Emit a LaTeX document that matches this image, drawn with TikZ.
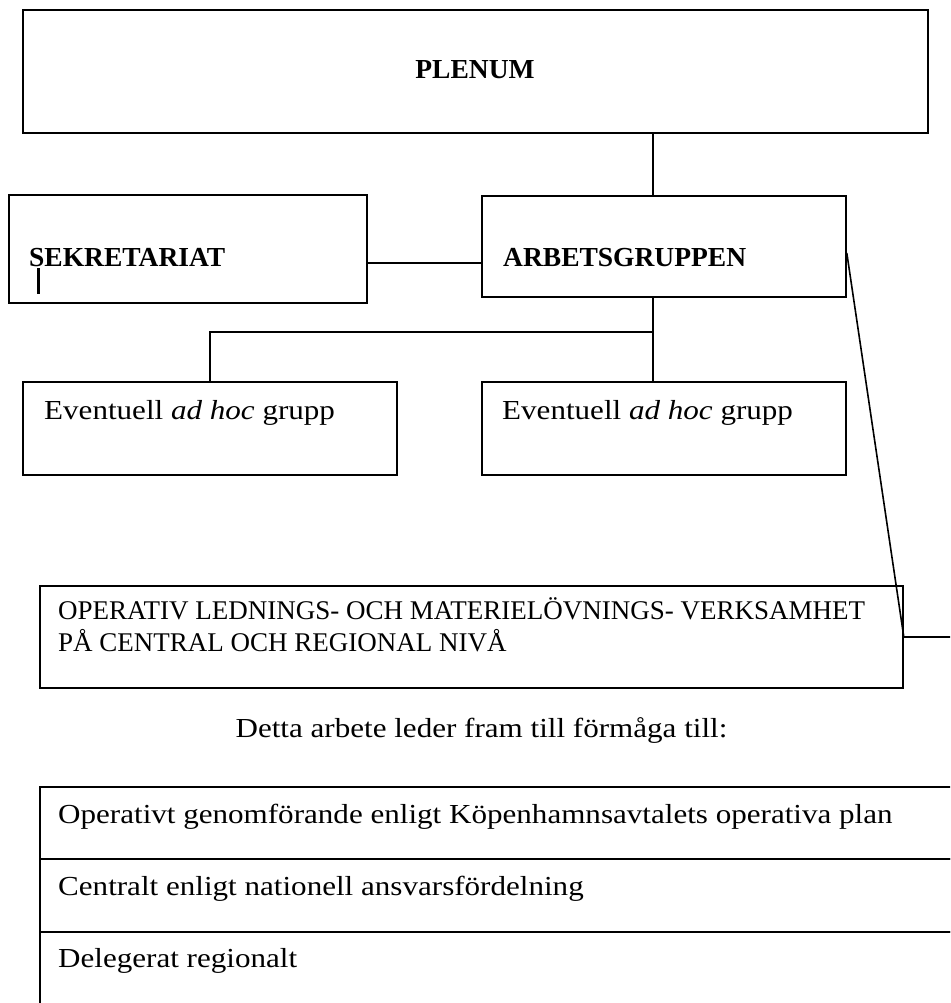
\documentclass[tikz,border=0pt]{standalone}
\usepackage{fontspec}
\setmainfont{Liberation Serif}
\newfontfamily\wideserif[FakeStretch=1.13]{Liberation Serif}
\usetikzlibrary{positioning, calc}
\tikzset{
  orgbox/.style={rectangle, draw=black, line width=1.6pt, inner sep=0pt},
  link/.style={draw=black, line width=1.6pt},
  headtext/.style={inner sep=0pt, font=\fontsize{27.5}{32}\selectfont\bfseries},
  captext/.style={inner sep=0pt, font=\fontsize{27}{32}\selectfont},
  bodytext/.style={inner sep=0pt, font=\fontsize{27.5}{32}\selectfont\wideserif},
}

\begin{document}
\begin{tikzpicture}[x=1pt, y=-1pt]
  \useasboundingbox (0,0) rectangle (950,1003);
  \clip (0,0) rectangle (950,1003);
  % boxes
  \node[orgbox, minimum width=905pt, minimum height=123pt] (plenum) at (475.5,71.5) {};
  \node[orgbox, minimum width=358pt, minimum height=108pt] (sek) at (188,249) {};
  \node[orgbox, minimum width=364pt, minimum height=101pt] (arb) at (664,246.5) {};
  \node[orgbox, minimum width=374pt, minimum height=93pt] (adhoc1) at (210,428.5) {};
  \node[orgbox, minimum width=364pt, minimum height=93pt] (adhoc2) at (664,428.5) {};
  \node[orgbox, minimum width=863pt, minimum height=102pt] (oper) at (471.5,637) {};
  \node[orgbox, minimum width=920pt, minimum height=72pt] (row1) at (500,823) {};
  \node[orgbox, minimum width=920pt, minimum height=73pt] (row2) at (500,895.5) {};
  \node[orgbox, minimum width=920pt, minimum height=78pt] (row3) at (500,971) {};
  % texts
  \node[headtext, anchor=base] (plenum-t) at (475,79) {PLENUM};
  \node[headtext, anchor=base west] (sek-t) at (29,266) {SEKRETARIAT};
  \node[headtext, anchor=base west] (arb-t) at (503,266) {ARBETSGRUPPEN};
  \node[bodytext, anchor=base west] (adhoc1-t) at (44,419) {Eventuell \textit{ad hoc} grupp};
  \node[bodytext, anchor=base west] (adhoc2-t) at (502,419) {Eventuell \textit{ad hoc} grupp};
  \node[captext, anchor=base west] (oper-t1) at (58,619) {OPERATIV LEDNINGS- OCH MATERIELÖVNINGS- VERKSAMHET};
  \node[captext, anchor=base west] (oper-t2) at (58,651) {PÅ CENTRAL OCH REGIONAL NIVÅ};
  \node[bodytext, anchor=base] (lead) at (481.5,737) {Detta arbete leder fram till förmåga till:};
  \node[bodytext, anchor=base west] (row1-t) at (58,823) {Operativt genomförande enligt Köpenhamnsavtalets operativa plan};
  \node[bodytext, anchor=base west] (row2-t) at (58,895) {Centralt enligt nationell ansvarsfördelning};
  \node[bodytext, anchor=base west] (row3-t) at (58,967) {Delegerat regionalt};
  % cursor mark
  \draw[line width=3pt] (38,268) -- (38,294);
  % connectors
  \coordinate (spine) at (653,0);
  \coordinate (tie) at (0,263);
  \coordinate (fork) at (653,332);
  \coordinate (edge) at (950,637);
  \draw[link] (plenum.south -| spine) -- (arb.north -| spine);
  \draw[link] (sek.east |- tie) -- (arb.west |- tie);
  \draw[link] (arb.south -| spine) -- (fork) -| (adhoc1.north);
  \draw[link] (fork) -- (adhoc2.north -| spine);
  \draw[link] ($(arb.east)+(0,6.5)$) -- (oper.east) -- (edge);
\end{tikzpicture}
\end{document}
